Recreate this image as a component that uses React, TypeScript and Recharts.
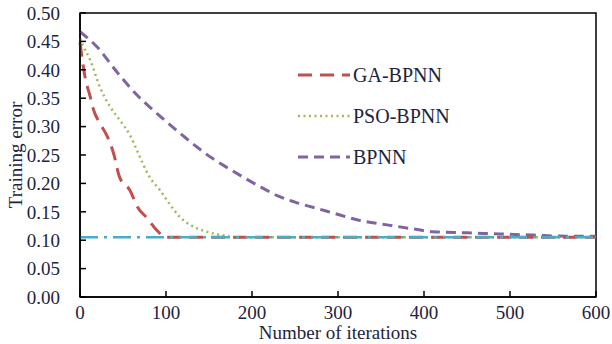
import React from "react";
import {
  LineChart,
  Line,
  XAxis,
  YAxis,
  ReferenceArea,
} from "recharts";

// iterations / training error
const gaIter = [0, 6, 12, 15, 23, 31, 39, 46, 58, 67, 78, 89, 100, 600];
const gaErr = [0.448, 0.386, 0.352, 0.333, 0.306, 0.285, 0.253, 0.211, 0.188, 0.158, 0.139, 0.118, 0.105, 0.105];

const psoIter = [0, 3, 12, 23, 35, 46, 58, 66, 81, 93, 105, 116, 136, 152, 168, 182, 600];
const psoErr = [0.455, 0.444, 0.417, 0.37, 0.335, 0.312, 0.285, 0.259, 0.211, 0.188, 0.162, 0.141, 0.121, 0.113, 0.108, 0.105, 0.105];

const bpIter = [0, 20, 43, 66, 85, 101, 119, 136, 153, 172, 192, 212, 230, 250, 273, 294, 322, 357, 387, 410, 450, 488, 527, 566, 600];
const bpErr = [0.467, 0.44, 0.396, 0.356, 0.329, 0.308, 0.285, 0.264, 0.245, 0.227, 0.209, 0.192, 0.178, 0.167, 0.157, 0.148, 0.136, 0.127, 0.12, 0.115, 0.113, 0.111, 0.109, 0.107, 0.107];

const targetIter = [0, 600];
const targetErr = [0.105, 0.105];

const xTicks = [0, 100, 200, 300, 400, 500, 600];
const yTicks = [0, 0.05, 0.1, 0.15, 0.2, 0.25, 0.3, 0.35, 0.4, 0.45, 0.5];

const toPoints = (xs: number[], ys: number[]) =>
  xs.map((x, i) => ({ x, y: ys[i] }));

const FONT = "'Liberation Serif', 'Times New Roman', serif";
const TEXT = "#1d2440";

const legendItems = [
  { name: "GA-BPNN", color: "#C0504D", dash: "14 8", width: 3 },
  { name: "PSO-BPNN", color: "#9BBB59", dash: "2 3.5", width: 2.5 },
  { name: "BPNN", color: "#8064A2", dash: "10 6", width: 3 },
];

// in-plot legend, drawn over the chart
const LegendBox = () => (
  <svg
    width={200}
    height={130}
    style={{ position: "absolute", left: 296, top: 55 }}
  >
    {legendItems.map((it, i) => {
      const y = 20 + i * 41;
      return (
        <g key={it.name}>
          <line
            x1={2}
            x2={54}
            y1={y}
            y2={y}
            stroke={it.color}
            strokeWidth={it.width}
            strokeDasharray={it.dash}
          />
          <text x={57} y={y + 7} fontFamily={FONT} fontSize={20} fill={TEXT}>
            {it.name}
          </text>
        </g>
      );
    })}
  </svg>
);

export default function App() {
  const tick = { fontFamily: FONT, fontSize: 19, fill: TEXT };
  return (
    <div style={{ position: "absolute", left: 0, top: 0, background: "#fff" }}>
      <LineChart
        width={612}
        height={344}
        margin={{ top: 13, right: 16, bottom: 0, left: 0 }}
      >
        <XAxis
          type="number"
          dataKey="x"
          domain={[0, 600]}
          ticks={xTicks}
          interval={0}
          tick={tick}
          tickSize={-6}
          tickMargin={15}
          height={47}
          stroke="#000"
          strokeWidth={1.5}
          allowDuplicatedCategory={false}
          label={{
            value: "Number of iterations",
            position: "insideBottom",
            offset: 5,
            style: { fontFamily: FONT, fontSize: 19, fill: TEXT },
          }}
        />
        <YAxis
          type="number"
          domain={[0, 0.5]}
          ticks={yTicks}
          interval={0}
          tick={tick}
          tickFormatter={(v: number) => v.toFixed(2)}
          tickSize={-6}
          tickMargin={26}
          width={80}
          stroke="#000"
          strokeWidth={1.5}
          label={{
            value: "Training error",
            angle: -90,
            position: "center",
            dx: -25,
            style: { fontFamily: FONT, fontSize: 19, fill: TEXT, textAnchor: "middle" },
          }}
        />
        <ReferenceArea
          x1={0}
          x2={600}
          y1={0}
          y2={0.5}
          fill="none"
          stroke="#000"
          strokeWidth={1.5}
          ifOverflow="visible"
        />
        <Line
          data={toPoints(bpIter, bpErr)}
          dataKey="y"
          type="monotone"
          stroke="#8064A2"
          strokeWidth={3}
          strokeDasharray="10 6"
          dot={false}
          isAnimationActive={false}
        />
        <Line
          data={toPoints(psoIter, psoErr)}
          dataKey="y"
          type="monotone"
          stroke="#9BBB59"
          strokeWidth={2.5}
          strokeDasharray="2 3.5"
          dot={false}
          isAnimationActive={false}
        />
        <Line
          data={toPoints(gaIter, gaErr)}
          dataKey="y"
          type="monotone"
          stroke="#C0504D"
          strokeWidth={3}
          strokeDasharray="14 8"
          dot={false}
          isAnimationActive={false}
        />
        <Line
          data={toPoints(targetIter, targetErr)}
          dataKey="y"
          type="linear"
          stroke="#4BACC6"
          strokeWidth={2.5}
          strokeDasharray="18 6 3 6"
          dot={false}
          isAnimationActive={false}
        />
      </LineChart>
      <LegendBox />
    </div>
  );
}
